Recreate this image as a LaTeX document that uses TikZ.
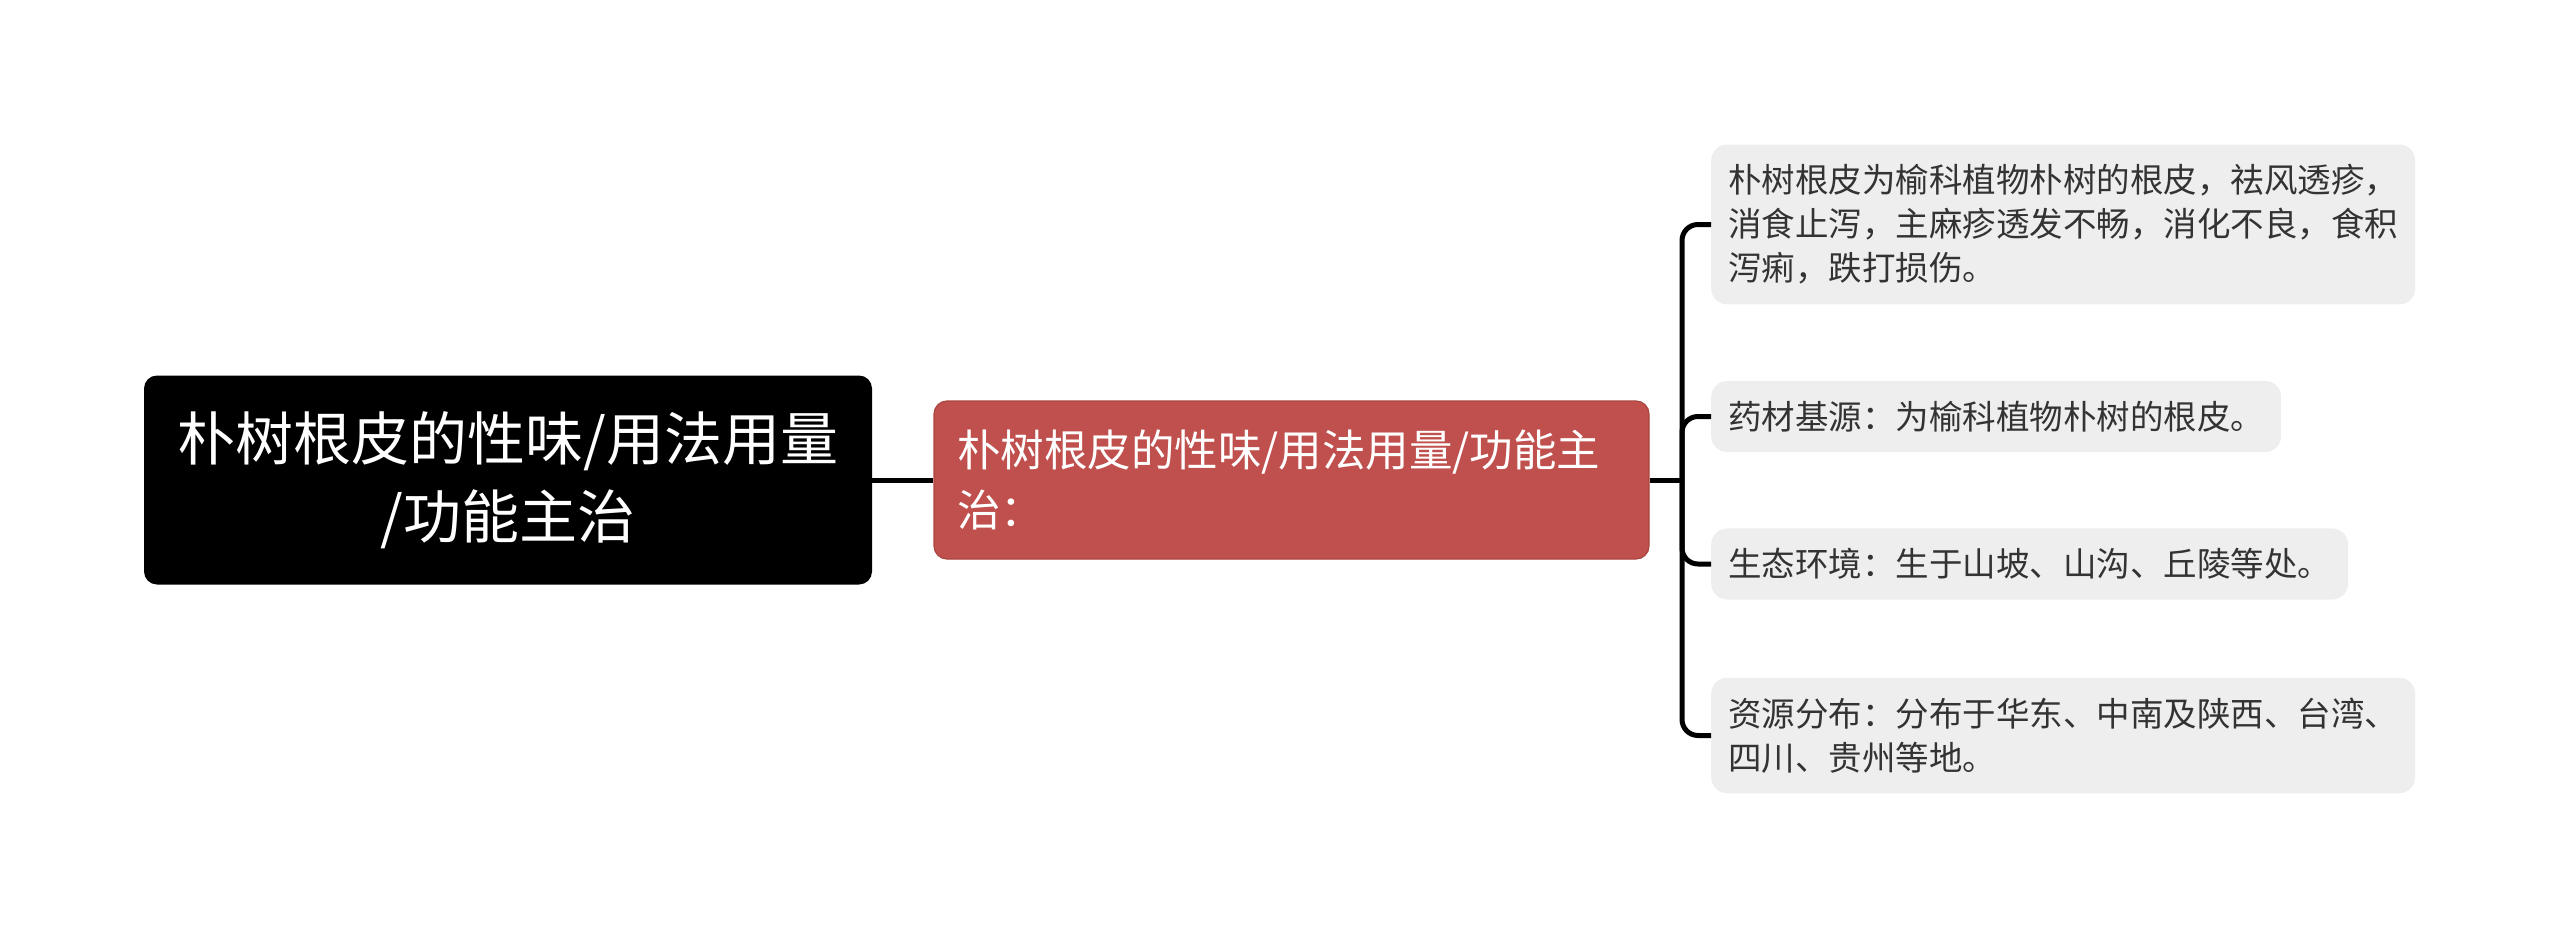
\documentclass[tikz,border=0pt]{standalone}
\usepackage{fontspec}
\setmainfont{Noto Sans CJK SC}
\usepackage{tikz}

\definecolor{redbox}{HTML}{C0504D}
\definecolor{redline}{HTML}{A9443F}
\definecolor{leafgray}{HTML}{EEEEEE}
\definecolor{leaftext}{HTML}{333333}

\tikzset{
  rootbox/.style={fill=black, text=white, rounded corners=13pt, align=center,
    minimum width=728pt, minimum height=209pt, inner sep=0pt,
    font=\fontsize{58pt}{78pt}\selectfont},
  topicbox/.style={fill=redbox, draw=redline, line width=1.2pt, text=white,
    rounded corners=13pt, align=left, minimum width=715pt, minimum height=158pt,
    text width=669pt, inner sep=0pt, font=\fontsize{43.5pt}{60pt}\selectfont},
  leafbox/.style={fill=leafgray, text=leaftext, rounded corners=16pt, align=left,
    anchor=west, inner xsep=17pt, inner ysep=20pt,
    font=\fontsize{33.5pt}{44pt}\selectfont},
  conn/.style={line width=5pt, black, rounded corners=16pt}
}

\begin{document}
\begin{tikzpicture}[x=1pt,y=-1pt]
  \useasboundingbox (0,0) rectangle (2560,939);
  \node [rootbox] (root) at (508,480) {朴树根皮的性味/用法用量\\/功能主治};
  \node [topicbox] (topic) at (1291.5,480) {朴树根皮的性味/用法用量/功能主\\治：};
  \coordinate (hub) at (1682,480);
  % leaves
  \node [leafbox] (origin) at (1711,224.5) {朴树根皮为榆科植物朴树的根皮，祛风透疹，\\消食止泻，主麻疹透发不畅，消化不良，食积\\泻痢，跌打损伤。};
  \node [leafbox] (source) at (1711,416.5) {药材基源：为榆科植物朴树的根皮。};
  \node [leafbox] (habitat) at (1711,564) {生态环境：生于山坡、山沟、丘陵等处。};
  \node [leafbox] (range) at (1711,735.5) {资源分布：分布于华东、中南及陕西、台湾、\\四川、贵州等地。};
  \draw [conn] (root.east) -- (topic.west);
  \draw [conn] (topic.east) -- (hub);
  \draw [conn] (hub) |- (origin.west);
  \draw [conn] (hub) |- (source.west);
  \draw [conn] (hub) |- (habitat.west);
  \draw [conn] (hub) |- (range.west);
\end{tikzpicture}
\end{document}
